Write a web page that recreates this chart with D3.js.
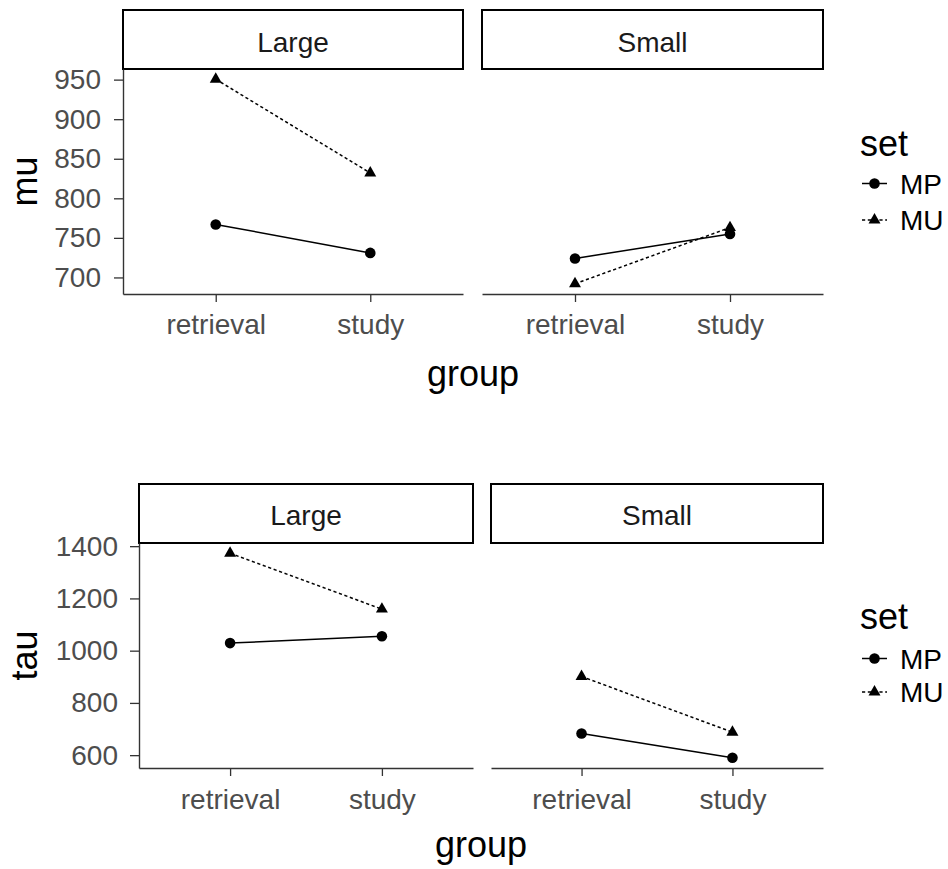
<!DOCTYPE html>
<html>
<head>
<meta charset="utf-8">
<script src="https://cdn.jsdelivr.net/npm/d3@7"></script>
<style>
  html, body { margin: 0; padding: 0; background: #fff; }
  svg { display: block; font-family: "Liberation Sans", Arial, sans-serif; }
</style>
</head>
<body>
<svg id="chart" width="948" height="869"></svg>
<script>
// Categories
const groups = ["retrieval", "study"];
const facets = ["Large", "Small"];
const sets = ["MP", "MU"];

// mu estimates by facet and set (retrieval, study)
const muLargeMP = [767, 731];
const muLargeMU = [950.5, 832];
const muSmallMP = [724, 755];
const muSmallMU = [692, 763];

// tau estimates by facet and set (retrieval, study)
const tauLargeMP = [1029, 1055];
const tauLargeMU = [1373, 1159];
const tauSmallMP = [683, 590];
const tauSmallMU = [901, 688];

// Tick labels
const muTicks = [700, 750, 800, 850, 900, 950];
const tauTicks = [600, 800, 1000, 1200, 1400];

const svg = d3.select("#chart");

const lineStyle = { MP: null, MU: "3.2,2.6" };
const tri = d3.symbol().type(d3.symbolTriangle).size(62);

function drawPlot(cfg) {
  const g = svg.append("g");
  const all = [];
  cfg.series.forEach(f => sets.forEach(s => all.push(...f[s])));
  const lo = d3.min(all), hi = d3.max(all), pad = (hi - lo) * 0.05;
  const y = d3.scaleLinear().domain([lo - pad, hi + pad]).range([cfg.panelBottom, cfg.panelTop]);

  cfg.panels.forEach((p, i) => {
    const facet = facets[i];
    const x = d3.scalePoint().domain(groups).range([p.x0, p.x1]).padding(0.6);

    // strip
    g.append("rect")
      .attr("x", p.x0).attr("y", cfg.stripTop)
      .attr("width", p.x1 - p.x0).attr("height", cfg.panelTop - cfg.stripTop)
      .attr("fill", "#fff").attr("stroke", "#000").attr("stroke-width", 2);
    g.append("text")
      .attr("x", (p.x0 + p.x1) / 2).attr("y", cfg.stripBase)
      .attr("text-anchor", "middle").attr("font-size", 28).attr("fill", "#1a1a1a")
      .text(facet);

    // x axis
    const xa = g.append("g").attr("transform", `translate(0,${cfg.panelBottom})`)
      .call(d3.axisBottom(x).tickSize(8).tickSizeOuter(0).tickPadding(cfg.xPad));
    xa.select(".domain").attr("stroke", "#333").attr("stroke-width", 1.4);
    xa.selectAll(".tick line").attr("stroke", "#333").attr("stroke-width", 1.3);
    xa.selectAll(".tick text").attr("font-size", 28).attr("fill", "#4d4d4d")
      .attr("font-family", "Liberation Sans, Arial, sans-serif");

    // y axis (left panel only; others keep the axis line)
    const ya = g.append("g").attr("transform", `translate(${p.x0},0)`)
      .call(d3.axisLeft(y).tickValues(cfg.ticks).tickFormat(d3.format("d"))
        .tickSize(i === 0 ? 9 : 0).tickSizeOuter(0).tickPadding(cfg.yPad));
    ya.select(".domain").attr("stroke", i === 0 ? "#333" : "none").attr("stroke-width", 1.4);
    ya.selectAll(".tick line").attr("stroke", "#333").attr("stroke-width", 1.3);
    ya.selectAll(".tick text").attr("font-size", 28).attr("fill", "#4d4d4d")
      .attr("font-family", "Liberation Sans, Arial, sans-serif");
    if (i > 0) ya.selectAll(".tick").remove();

    // series
    sets.forEach(s => {
      const vals = cfg.series[i][s];
      const pts = groups.map((gr, k) => [x(gr), y(vals[k])]);
      g.append("path")
        .attr("d", d3.line()(pts))
        .attr("fill", "none").attr("stroke", "#000").attr("stroke-width", 1.5)
        .attr("stroke-dasharray", lineStyle[s]);
      pts.forEach(pt => {
        if (s === "MP") {
          g.append("circle").attr("cx", pt[0]).attr("cy", pt[1]).attr("r", 5.3).attr("fill", "#000");
        } else {
          g.append("path").attr("d", tri()).attr("transform", `translate(${pt[0]},${pt[1]})`).attr("fill", "#000");
        }
      });
    });
  });

  // axis titles
  g.append("text")
    .attr("transform", `translate(${cfg.yTitleX},${(cfg.panelTop + cfg.panelBottom) / 2}) rotate(-90)`)
    .attr("text-anchor", "middle").attr("font-size", 36).attr("fill", "#000")
    .text(cfg.yTitle);
  g.append("text")
    .attr("x", (cfg.panels[0].x0 + cfg.panels[1].x1) / 2).attr("y", cfg.xTitleBase)
    .attr("text-anchor", "middle").attr("font-size", 36).attr("fill", "#000")
    .text("group");

  // legend
  const lg = g.append("g");
  lg.append("text").attr("x", 860).attr("y", cfg.legTitleBase)
    .attr("font-size", 36).attr("fill", "#000").text("set");
  sets.forEach((s, k) => {
    const cy = cfg.legRows[k];
    lg.append("line").attr("x1", 862).attr("x2", 887).attr("y1", cy).attr("y2", cy)
      .attr("stroke", "#000").attr("stroke-width", 1.5).attr("stroke-dasharray", lineStyle[s]);
    if (s === "MP") lg.append("circle").attr("cx", 874.5).attr("cy", cy).attr("r", 5.3).attr("fill", "#000");
    else lg.append("path").attr("d", tri()).attr("transform", `translate(874.5,${cy})`).attr("fill", "#000");
    lg.append("text").attr("x", 900).attr("y", cy).attr("dy", "0.36em")
      .attr("font-size", 28).attr("fill", "#000").text(s);
  });
}

drawPlot({
  series: [{ MP: muLargeMP, MU: muLargeMU }, { MP: muSmallMP, MU: muSmallMU }],
  ticks: muTicks,
  panels: [{ x0: 123, x1: 463 }, { x0: 482, x1: 823 }],
  stripTop: 10, panelTop: 69, panelBottom: 294, stripBase: 51.5,
  xPad: 12, yPad: 13,
  yTitle: "mu", yTitleX: 37, xTitleBase: 386,
  legTitleBase: 156, legRows: [183.5, 220]
});

drawPlot({
  series: [{ MP: tauLargeMP, MU: tauLargeMU }, { MP: tauSmallMP, MU: tauSmallMU }],
  ticks: tauTicks,
  panels: [{ x0: 139, x1: 473 }, { x0: 491, x1: 823 }],
  stripTop: 484, panelTop: 543, panelBottom: 768, stripBase: 525,
  xPad: 13, yPad: 12,
  yTitle: "tau", yTitleX: 37, xTitleBase: 857,
  legTitleBase: 629, legRows: [658.5, 692]
});
</script>
</body>
</html>
